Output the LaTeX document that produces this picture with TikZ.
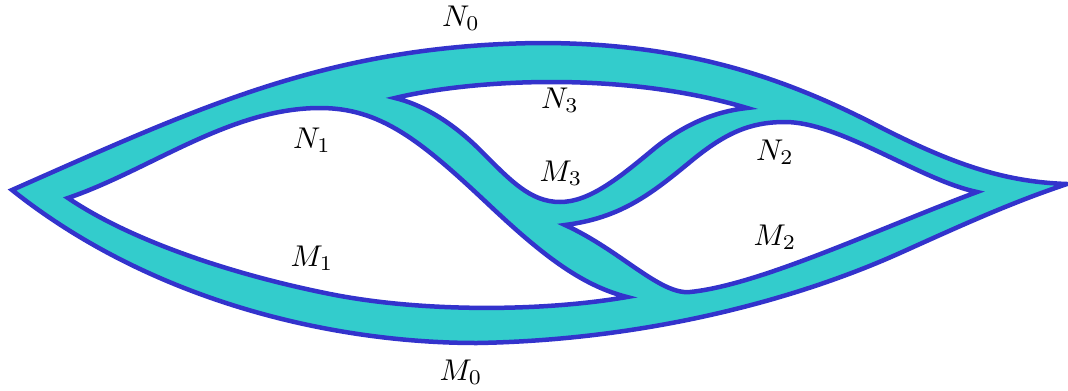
\documentclass[tikz,border=0pt]{standalone}
\definecolor{fillc}{RGB}{51,204,204}
\definecolor{linec}{RGB}{51,51,204}
\begin{document}
\begin{tikzpicture}[x=0.3333pt,y=-0.3333pt,
  region/.style={fill=fillc,draw=linec,line width=1.5pt,even odd rule},
  lab/.style={inner sep=0pt}]
\useasboundingbox (0,0) rectangle (1068,390);
\path[region]
 % outer boundary
 (12,190) .. controls (200,107) and (330,45) .. (540,43)
   .. controls (680,43) and (780,75) .. (880,127)
   .. controls (960,168) and (1010,182) .. (1067,184)
   .. controls (1010,203) and (960,226) .. (900,253)
   .. controls (800,298) and (650,340) .. (477,343)
   .. controls (330,343) and (150,300) .. (12,190) -- cycle
 % hole N1 / M1
 (68,198) .. controls (150,170) and (230,108) .. (320,108)
   .. controls (380,108) and (420,140) .. (487,203)
   .. controls (540,253) and (580,285) .. (627,297)
   .. controls (540,312) and (420,312) .. (330,294)
   .. controls (230,274) and (130,240) .. (68,198) -- cycle
 % hole N3 / M3
 (395,98) .. controls (470,80) and (620,70) .. (747,108)
   .. controls (710,112) and (680,128) .. (655,148)
   .. controls (620,177) and (590,202) .. (560,202)
   .. controls (530,202) and (510,180) .. (480,150)
   .. controls (450,120) and (420,104) .. (395,98) -- cycle
 % hole N2 / M2
 (565,225) .. controls (620,218) and (650,195) .. (690,162)
   .. controls (725,133) and (750,122) .. (785,122)
   .. controls (840,122) and (920,180) .. (977,192)
   .. controls (880,228) and (760,285) .. (690,292)
   .. controls (660,295) and (620,250) .. (565,225) -- cycle;
\node[lab] (n0) at (461,18) {$N_0$};
\node[lab] (n1) at (312,140) {$N_1$};
\node[lab] (n2) at (775,152) {$N_2$};
\node[lab] (n3) at (560,100) {$N_3$};
\node[lab] (m0) at (461,372) {$M_0$};
\node[lab] (m1) at (312,258) {$M_1$};
\node[lab] (m2) at (775,237) {$M_2$};
\node[lab] (m3) at (561,173) {$M_3$};
\end{tikzpicture}
\end{document}
